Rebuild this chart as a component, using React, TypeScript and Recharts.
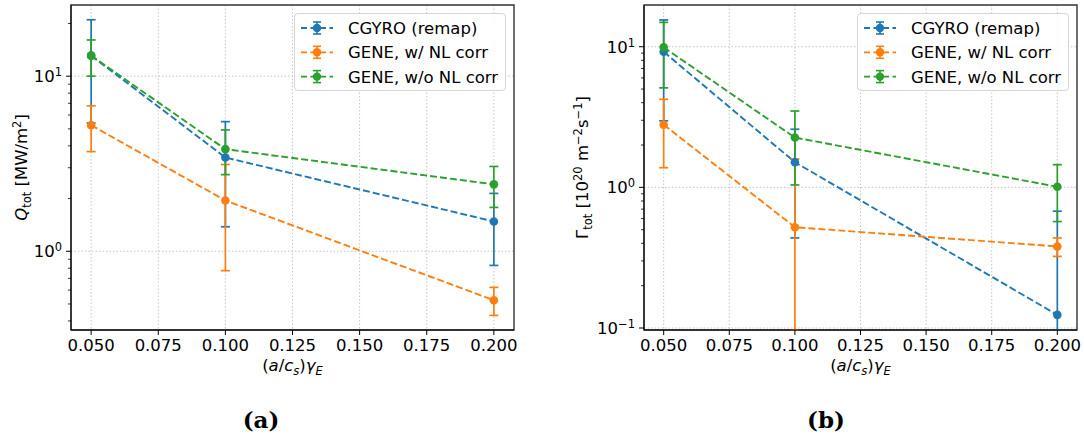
import React from 'react';
import { LineChart, Line, XAxis, YAxis, CartesianGrid, ErrorBar, ReferenceArea, Legend, Label } from 'recharts';

const FONT = '"DejaVu Sans", sans-serif';
const FS = 16.5;
const FS_SMALL = 11.5;

const xValues = [0.05, 0.1, 0.2];
const xTicks = [0.05, 0.075, 0.1, 0.125, 0.15, 0.175, 0.2];
const xDomain = [0.0425, 0.2075];

const seriesNames = ['CGYRO (remap)', 'GENE, w/ NL corr', 'GENE, w/o NL corr'];
const seriesColors = ['#1f77b4', '#ff7f0e', '#2ca02c'];

// (a) heat flux Q_tot [MW/m^2]
const qCgyro = [13.1, 3.43, 1.48];
const qCgyroLow = [5.4, 1.38, 0.83];
const qCgyroHigh = [21.0, 5.5, 2.14];
const qGeneNl = [5.25, 1.95, 0.525];
const qGeneNlLow = [3.71, 0.775, 0.43];
const qGeneNlHigh = [6.77, 3.13, 0.622];
const qGeneNoNl = [13.1, 3.83, 2.41];
const qGeneNoNlLow = [10.0, 2.74, 1.78];
const qGeneNoNlHigh = [16.1, 4.93, 3.05];
const qTicks = [0.4, 0.5, 0.6, 0.7, 0.8, 0.9, 1, 2, 3, 4, 5, 6, 7, 8, 9, 10, 20];
const qDomain = [0.355, 25.5];

// (b) particle flux Gamma_tot [1e20 m^-2 s^-1]
// lower ends that run off the bottom of the axes are set to the axis minimum
const gCgyro = [9.2, 1.51, 0.124];
const gCgyroLow = [2.97, 0.437, 0.0968];
const gCgyroHigh = [15.5, 2.59, 0.677];
const gGeneNl = [2.79, 0.521, 0.38];
const gGeneNlLow = [1.38, 0.0968, 0.323];
const gGeneNlHigh = [4.23, 1.59, 0.437];
const gGeneNoNl = [9.9, 2.26, 1.01];
const gGeneNoNlLow = [5.1, 1.04, 0.571];
const gGeneNoNlHigh = [14.9, 3.49, 1.45];
const gTicks = [0.1, 0.2, 0.3, 0.4, 0.5, 0.6, 0.7, 0.8, 0.9, 1, 2, 3, 4, 5, 6, 7, 8, 9, 10];
const gDomain = [0.0968, 19.8];

function buildRows(vals: number[][], lows: number[][], highs: number[][]) {
  return xValues.map((x, i) => {
    const row: any = { x };
    vals.forEach((v, s) => {
      row['s' + s] = v[i];
      row['e' + s] = [v[i] - lows[s][i], highs[s][i] - v[i]];
    });
    return row;
  });
}

const qRows = buildRows(
  [qCgyro, qGeneNl, qGeneNoNl],
  [qCgyroLow, qGeneNlLow, qGeneNoNlLow],
  [qCgyroHigh, qGeneNlHigh, qGeneNoNlHigh]
);
const gRows = buildRows(
  [gCgyro, gGeneNl, gGeneNoNl],
  [gCgyroLow, gGeneNlLow, gGeneNoNlLow],
  [gCgyroHigh, gGeneNlHigh, gGeneNoNlHigh]
);

function LogTick(props: any) {
  const { x, y, payload } = props;
  const lg = Math.log10(payload.value);
  const exp = Math.round(lg);
  const major = Math.abs(lg - exp) < 1e-6;
  const ax = x + 9;
  return (
    <g>
      <line x1={ax - (major ? 5 : 3)} x2={ax} y1={y} y2={y} stroke="#000" strokeWidth={major ? 1 : 0.8} />
      {major && (
        <text x={x} y={y + 6} textAnchor="end" fontSize={FS} fontFamily={FONT} fill="#000">
          <tspan>10</tspan>
          <tspan dy={-6} fontSize={FS_SMALL}>{exp < 0 ? '\u2212' + -exp : String(exp)}</tspan>
        </text>
      )}
    </g>
  );
}

function LegendBox() {
  return (
    <div style={{ width: 212, height: 78, boxSizing: 'border-box', border: '1px solid #d6d6d6', borderRadius: 4, background: 'rgba(255,255,255,0.85)' }}>
      <svg width={210} height={76} style={{ display: 'block' }}>
        {seriesNames.map((name, i) => {
          const cy = 14 + 24.3 * i;
          const c = seriesColors[i];
          return (
            <g key={name}>
              <line x1={6} x2={38} y1={cy} y2={cy} stroke={c} strokeWidth={1.8} strokeDasharray="6 3.5" />
              <line x1={22} x2={22} y1={cy - 6} y2={cy + 6} stroke={c} strokeWidth={1.6} />
              <line x1={18} x2={26} y1={cy - 6} y2={cy - 6} stroke={c} strokeWidth={1.6} />
              <line x1={18} x2={26} y1={cy + 6} y2={cy + 6} stroke={c} strokeWidth={1.6} />
              <circle cx={22} cy={cy} r={4.2} fill={c} />
              <text x={53} y={cy + 6} fontSize={FS} fontFamily={FONT} fill="#000">{name}</text>
            </g>
          );
        })}
      </svg>
    </div>
  );
}

function XLabel(props: any) {
  const vb = props.viewBox;
  const cx = vb.x + vb.width / 2;
  return (
    <text x={cx} y={vb.y + 41} textAnchor="middle" fontSize={FS} fontFamily={FONT} fill="#000">
      <tspan>(</tspan>
      <tspan fontStyle="italic">a</tspan>
      <tspan>/</tspan>
      <tspan fontStyle="italic">c</tspan>
      <tspan fontStyle="italic" fontSize={FS_SMALL} dy={3.5}>s</tspan>
      <tspan dy={-3.5}>)</tspan>
      <tspan fontStyle="italic">γ</tspan>
      <tspan fontStyle="italic" fontSize={FS_SMALL} dy={3.5}>E</tspan>
    </text>
  );
}

function QLabel(props: any) {
  const vb = props.viewBox;
  return (
    <text transform={`translate(${vb.x + 27},${vb.y + vb.height / 2}) rotate(-90)`} textAnchor="middle" fontSize={FS} fontFamily={FONT} fill="#000">
      <tspan fontStyle="italic">Q</tspan>
      <tspan fontSize={FS_SMALL} dy={3.5}>tot</tspan>
      <tspan dy={-3.5}> [MW/m</tspan>
      <tspan fontSize={FS_SMALL} dy={-6}>2</tspan>
      <tspan dy={6}>]</tspan>
    </text>
  );
}

function GammaLabel(props: any) {
  const vb = props.viewBox;
  return (
    <text transform={`translate(${vb.x + 48},${vb.y + vb.height / 2}) rotate(-90)`} textAnchor="middle" fontSize={FS} fontFamily={FONT} fill="#000">
      <tspan>Γ</tspan>
      <tspan fontSize={FS_SMALL} dy={3.5}>tot</tspan>
      <tspan dy={-3.5}> [10</tspan>
      <tspan fontSize={FS_SMALL} dy={-6}>20</tspan>
      <tspan dy={6}> m</tspan>
      <tspan fontSize={FS_SMALL} dy={-6}>−2</tspan>
      <tspan dy={6}>s</tspan>
      <tspan fontSize={FS_SMALL} dy={-6}>−1</tspan>
      <tspan dy={6}>]</tspan>
    </text>
  );
}

interface PanelProps {
  rows: any[];
  width: number;
  yWidth: number;
  marginRight: number;
  yDomain: number[];
  yTicks: number[];
  yLabel: React.ReactElement;
  legendLeft: number;
}

function Panel({ rows, width, yWidth, marginRight, yDomain, yTicks, yLabel, legendLeft }: PanelProps) {
  const decades = yTicks.filter(t => Math.abs(Math.log10(t) - Math.round(Math.log10(t))) < 1e-6);
  return (
    <LineChart width={width} height={380} data={rows} margin={{ top: 5, right: marginRight, bottom: 0, left: 0 }}>
      <CartesianGrid stroke="#b8b8b8" strokeWidth={0.8} strokeDasharray="1.5 2" verticalValues={xTicks} horizontalValues={decades} />
      <XAxis
        dataKey="x"
        type="number"
        domain={xDomain}
        ticks={xTicks}
        allowDataOverflow
        interval={0}
        height={50}
        stroke="#000"
        tickSize={5}
        tickMargin={4}
        tickFormatter={(v: number) => v.toFixed(3)}
        tick={{ fill: '#000', fontSize: FS, fontFamily: FONT }}
      >
        <Label content={<XLabel />} />
      </XAxis>
      <YAxis
        type="number"
        scale="log"
        domain={yDomain}
        ticks={yTicks}
        allowDataOverflow
        interval={0}
        width={yWidth}
        stroke="#000"
        tickSize={5}
        tickMargin={4}
        tickLine={false}
        tick={<LogTick />}
      >
        <Label content={yLabel} />
      </YAxis>
      {seriesNames.map((name, s) => (
        <Line
          key={name}
          dataKey={'s' + s}
          name={name}
          type="linear"
          stroke={seriesColors[s]}
          strokeWidth={1.9}
          strokeDasharray="7 3"
          dot={{ r: 4.3, fill: seriesColors[s], stroke: 'none' }}
          activeDot={false}
          isAnimationActive={false}
        >
          <ErrorBar dataKey={'e' + s} direction="y" width={4.5} stroke={seriesColors[s]} strokeWidth={1.7} />
        </Line>
      ))}
      <ReferenceArea x1={xDomain[0]} x2={xDomain[1]} y1={yDomain[0]} y2={yDomain[1]} fill="none" stroke="#333" strokeWidth={1.4} ifOverflow="visible" />
      <Legend
        layout="horizontal"
        verticalAlign="middle"
        align="center"
        wrapperStyle={{ left: legendLeft, top: 13, width: 212 }}
        content={() => <LegendBox />}
      />
    </LineChart>
  );
}

export default function App() {
  return (
    <div style={{ position: 'absolute', left: 0, top: 0, width: 1084, height: 440, background: '#fff', fontFamily: FONT }}>
      <div style={{ position: 'absolute', left: 0, top: 0 }}>
        <Panel rows={qRows} width={540} yWidth={71} marginRight={26} yDomain={qDomain} yTicks={qTicks} yLabel={<QLabel />} legendLeft={294} />
      </div>
      <div style={{ position: 'absolute', left: 540, top: 0 }}>
        <Panel rows={gRows} width={544} yWidth={104} marginRight={7} yDomain={gDomain} yTicks={gTicks} yLabel={<GammaLabel />} legendLeft={317} />
      </div>
      <div style={{ position: 'absolute', left: 221, top: 406, width: 80, textAlign: 'center', fontFamily: '"DejaVu Serif", serif', fontWeight: 'bold', fontSize: 23 }}>(a)</div>
      <div style={{ position: 'absolute', left: 786, top: 406, width: 80, textAlign: 'center', fontFamily: '"DejaVu Serif", serif', fontWeight: 'bold', fontSize: 23 }}>(b)</div>
    </div>
  );
}
